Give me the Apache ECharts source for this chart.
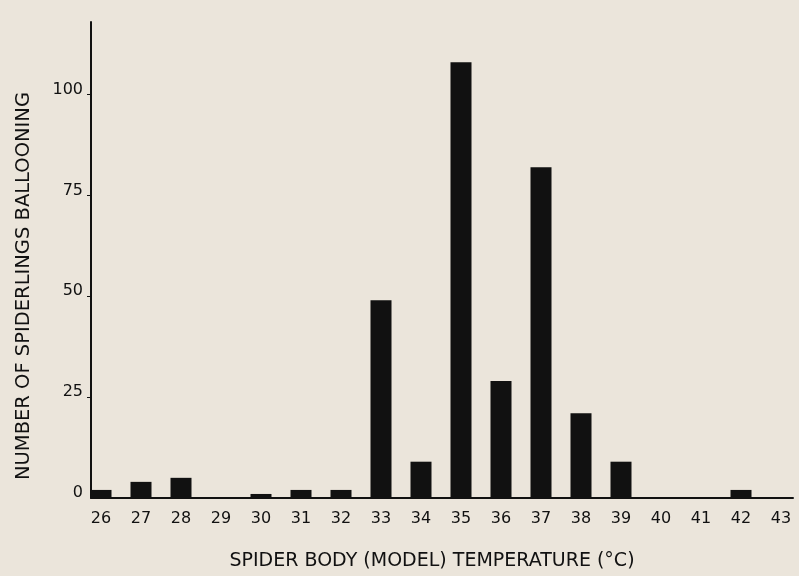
<!DOCTYPE html>
<html>
<head>
<meta charset="utf-8">
<script src="https://cdn.jsdelivr.net/npm/echarts@6/dist/echarts.min.js"></script>
<style>
  html, body { margin: 0; padding: 0; background: #ebe5db; }
  #chart { width: 799px; height: 576px; }
</style>
</head>
<body>
<div id="chart"></div>
<script>
// temperature (°C) and number of spiderlings ballooning
const temps = [26, 27, 28, 29, 30, 31, 32, 33, 34, 35, 36, 37, 38, 39, 40, 41, 42, 43]
const counts = [2, 4, 5, 0, 1, 2, 2, 49, 9, 108, 29, 82, 21, 9, 0, 0, 2, 0]
const yTicks = [0, 25, 50, 75, 100]

const FONT = 'DejaVu Sans'
const INK = '#111'

const chart = echarts.init(document.getElementById('chart'), null, { renderer: 'canvas' })

chart.setOption({
  backgroundColor: '#ebe5db',
  animation: false,
  grid: { left: 91, right: 6, top: 22, bottom: 78 },
  xAxis: {
    type: 'value',
    min: 25.75,
    max: 43.3,
    name: 'SPIDER BODY (MODEL) TEMPERATURE (°C)',
    nameLocation: 'middle',
    nameGap: 54,
    nameTextStyle: { fontFamily: FONT, fontSize: 19, color: INK, padding: [0, 20, 0, 0] },
    axisLine: { lineStyle: { color: INK, width: 2 } },
    axisTick: { show: false },
    splitLine: { show: false },
    axisLabel: {
      customValues: temps,
      fontFamily: FONT, fontSize: 16, color: INK, margin: 13,
    },
  },
  yAxis: {
    type: 'value',
    min: 0,
    max: 118,
    name: 'NUMBER OF SPIDERLINGS BALLOONING',
    nameLocation: 'middle',
    nameGap: 57,
    nameTextStyle: { fontFamily: FONT, fontSize: 19.5, color: INK, padding: [0, 52, 0, 0] },
    axisLine: { show: true, lineStyle: { color: INK, width: 2 } },
    axisTick: { show: true, customValues: yTicks.slice(1), length: 4, lineStyle: { color: INK, width: 1 } },
    splitLine: { show: false },
    axisLabel: {
      customValues: yTicks,
      fontFamily: FONT, fontSize: 16, color: INK, margin: 8,
      verticalAlign: 'bottom',
      lineHeight: 10,
    },
  },
  series: [{
    type: 'bar',
    data: temps.map((t, i) => [t, counts[i]]),
    barWidth: 21,
    itemStyle: { color: INK },
    clip: true,
  }],
})
</script>
</body>
</html>
